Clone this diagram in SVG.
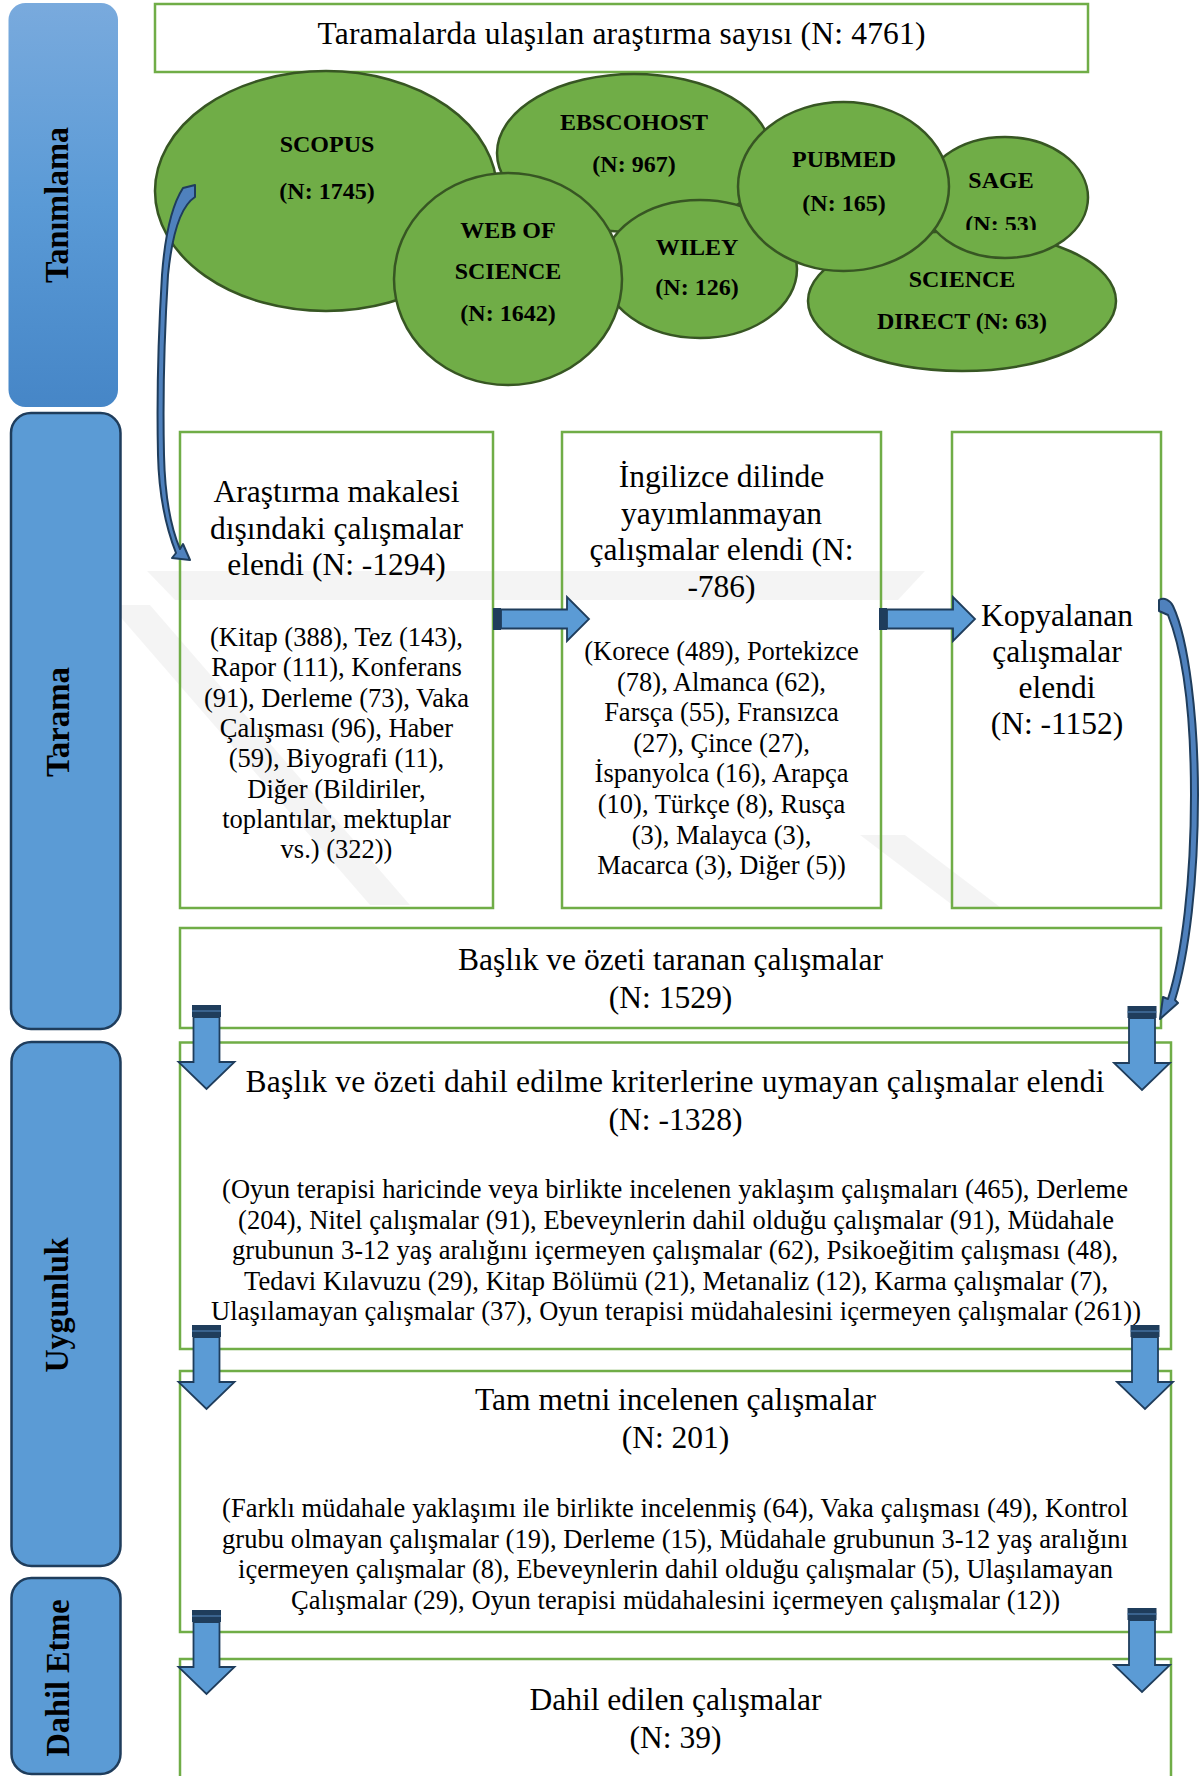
<svg xmlns="http://www.w3.org/2000/svg" width="1202" height="1776" viewBox="0 0 1202 1776">
<defs>
<linearGradient id="gTan" x1="0" y1="0" x2="0" y2="1">
<stop offset="0" stop-color="#79aadd"/><stop offset="0.5" stop-color="#5a9ad6"/><stop offset="1" stop-color="#4686c7"/>
</linearGradient>
<g id="dArr">
<rect x="-14.5" y="0" width="29" height="12" fill="#1f3d5c"/>
<line x1="-14.5" y1="6" x2="14.5" y2="6" stroke="#4d7eb0" stroke-width="1.2"/>
<path d="M-13,12 H13 V57 H28 L0,84 L-28,57 H-13 Z" fill="#5b9bd5" stroke="#1f3d5c" stroke-width="1.8"/>
</g>
<g id="rArr">
<rect x="0" y="-11" width="8" height="22" fill="#1f3d5c"/>
<path d="M8,-9.5 H74 V-22 L96,0 L74,22 V9.5 H8 Z" fill="#5b9bd5" stroke="#1f3d5c" stroke-width="1.8"/>
</g>
<clipPath id="clipSage"><rect x="900" y="100" width="200" height="130"/></clipPath>
</defs>
<style>
.box{fill:none;stroke:#70ad47;stroke-width:2.5}
.side{fill:#5b9bd5;stroke:#1f3d5c;stroke-width:2.5}
.ell{fill:#70ad47;stroke:#375623;stroke-width:2.5}
.et{font-family:"Liberation Serif","Times New Roman",serif;font-weight:bold;font-size:24px;text-anchor:middle;fill:#000}
.h{font-family:"Liberation Serif","Times New Roman",serif;font-size:31.5px;text-anchor:middle;fill:#000}
.d{font-family:"Liberation Serif","Times New Roman",serif;font-size:26.5px;text-anchor:middle;fill:#000}
.st{font-family:"Liberation Serif","Times New Roman",serif;font-weight:bold;font-size:34px;text-anchor:middle;fill:#000}
.wm{fill:#000;opacity:0.045}
.rib{fill:#4f81bd;stroke:#1f3d5c;stroke-width:2;stroke-linejoin:round}
</style>
<rect x="0" y="0" width="1202" height="1776" fill="#ffffff"/>
<g id="watermark">
<polygon class="wm" points="147,571 925,571 898,600 175,600"/>
<polygon class="wm" points="110,605 150,605 410,905 370,905"/>
<polygon class="wm" points="860,835 905,835 1000,907 955,907"/>
</g>
<g id="side-tanimlama">
<rect x="8.5" y="3" width="109.5" height="404" rx="17" fill="url(#gTan)"/>
<text class="st" transform="translate(68,205) rotate(-90)" textLength="156" lengthAdjust="spacingAndGlyphs">Tanımlama</text>
</g>
<g id="side-tarama">
<rect class="side" x="11" y="413" width="109.5" height="616" rx="20"/>
<text class="st" transform="translate(69,722) rotate(-90)" textLength="110" lengthAdjust="spacingAndGlyphs">Tarama</text>
</g>
<g id="side-uygunluk">
<rect class="side" x="11.5" y="1042" width="109" height="524" rx="20"/>
<text class="st" transform="translate(68,1305) rotate(-90)" textLength="135" lengthAdjust="spacingAndGlyphs">Uygunluk</text>
</g>
<g id="side-dahil">
<rect class="side" x="11.5" y="1578" width="109" height="196" rx="20"/>
<text class="st" transform="translate(69,1678) rotate(-90)" textLength="157" lengthAdjust="spacingAndGlyphs">Dahil Etme</text>
</g>
<g id="n-title">
<rect class="box" x="155" y="4" width="933" height="68"/>
<text class="h" x="621.5" y="44" textLength="608">Taramalarda ulaşılan araştırma sayısı (N: 4761)</text>
</g>
<g id="n-scopus">
<ellipse class="ell" cx="326" cy="191" rx="171" ry="120"/>
<text class="et" x="327" y="152">SCOPUS</text>
<text class="et" x="327" y="199">(N: 1745)</text>
</g>
<g id="n-ebscohost">
<ellipse class="ell" cx="634" cy="153" rx="137" ry="79"/>
<text class="et" x="634" y="130">EBSCOHOST</text>
<text class="et" x="634" y="172">(N: 967)</text>
</g>
<g id="n-wiley">
<ellipse class="ell" cx="700" cy="269" rx="97" ry="69"/>
<text class="et" x="697" y="255">WILEY</text>
<text class="et" x="697" y="295">(N: 126)</text>
</g>
<g id="n-wos">
<ellipse class="ell" cx="508" cy="279" rx="114" ry="106"/>
<text class="et" x="508" y="238">WEB OF</text>
<text class="et" x="508" y="279">SCIENCE</text>
<text class="et" x="508" y="321">(N: 1642)</text>
</g>
<g id="n-sciencedirect">
<ellipse class="ell" cx="962" cy="301" rx="154" ry="70"/>
<text class="et" x="962" y="287">SCIENCE</text>
<text class="et" x="962" y="329">DIRECT (N: 63)</text>
</g>
<g id="n-sage">
<ellipse class="ell" cx="1005" cy="197.5" rx="83" ry="60.5"/>
<text class="et" x="1001" y="188">SAGE</text>
<text class="et" x="1001" y="232" clip-path="url(#clipSage)">(N: 53)</text>
</g>
<g id="n-pubmed">
<ellipse class="ell" cx="843.5" cy="186.5" rx="105.5" ry="84.5"/>
<text class="et" x="844" y="167">PUBMED</text>
<text class="et" x="844" y="211">(N: 165)</text>
</g>
<g id="n-box1">
<rect class="box" x="180" y="432" width="313" height="476"/>
<text class="h" x="336.5" y="502">Araştırma makalesi</text>
<text class="h" x="336.5" y="538.5">dışındaki çalışmalar</text>
<text class="h" x="336.5" y="575">elendi (N: -1294)</text>
<text class="d" x="336.5" y="646">(Kitap (388), Tez (143),</text>
<text class="d" x="336.5" y="676.3">Rapor (111), Konferans</text>
<text class="d" x="336.5" y="706.6">(91), Derleme (73), Vaka</text>
<text class="d" x="336.5" y="737">Çalışması (96), Haber</text>
<text class="d" x="336.5" y="767.3">(59), Biyografi (11),</text>
<text class="d" x="336.5" y="797.6">Diğer (Bildiriler,</text>
<text class="d" x="336.5" y="828">toplantılar, mektuplar</text>
<text class="d" x="336.5" y="858.3">vs.) (322))</text>
</g>
<g id="n-box2">
<rect class="box" x="562" y="432" width="319" height="476"/>
<text class="h" x="721.5" y="487">İngilizce dilinde</text>
<text class="h" x="721.5" y="523.5">yayımlanmayan</text>
<text class="h" x="721.5" y="560">çalışmalar elendi (N:</text>
<text class="h" x="721.5" y="596.5">-786)</text>
<text class="d" x="721.5" y="660">(Korece (489), Portekizce</text>
<text class="d" x="721.5" y="690.6">(78), Almanca (62),</text>
<text class="d" x="721.5" y="721.2">Farsça (55), Fransızca</text>
<text class="d" x="721.5" y="751.8">(27), Çince (27),</text>
<text class="d" x="721.5" y="782.4">İspanyolca (16), Arapça</text>
<text class="d" x="721.5" y="813">(10), Türkçe (8), Rusça</text>
<text class="d" x="721.5" y="843.6">(3), Malayca (3),</text>
<text class="d" x="721.5" y="874.2">Macarca (3), Diğer (5))</text>
</g>
<g id="n-box3">
<rect class="box" x="952" y="432" width="209" height="476"/>
<text class="h" x="1057" y="626">Kopyalanan</text>
<text class="h" x="1057" y="662">çalışmalar</text>
<text class="h" x="1057" y="698">elendi</text>
<text class="h" x="1057" y="734">(N: -1152)</text>
</g>
<g id="n-box4">
<rect class="box" x="180" y="928" width="981" height="100"/>
<text class="h" x="670.5" y="970">Başlık ve özeti taranan çalışmalar</text>
<text class="h" x="670.5" y="1008">(N: 1529)</text>
</g>
<g id="n-box5">
<rect class="box" x="180" y="1042.5" width="991" height="306.5"/>
<text class="h" x="675" y="1092" textLength="859">Başlık ve özeti dahil edilme kriterlerine uymayan çalışmalar elendi</text>
<text class="h" x="675.5" y="1129.5">(N: -1328)</text>
<text class="d" x="675" y="1198" textLength="906">(Oyun terapisi haricinde veya birlikte incelenen yaklaşım çalışmaları (465), Derleme</text>
<text class="d" x="676" y="1228.5" textLength="876">(204), Nitel çalışmalar (91), Ebeveynlerin dahil olduğu çalışmalar (91), Müdahale</text>
<text class="d" x="675" y="1259" textLength="886">grubunun 3-12 yaş aralığını içermeyen çalışmalar (62), Psikoeğitim çalışması (48),</text>
<text class="d" x="676" y="1289.5" textLength="864">Tedavi Kılavuzu (29), Kitap Bölümü (21), Metanaliz (12), Karma çalışmalar (7),</text>
<text class="d" x="676" y="1320" textLength="930">Ulaşılamayan çalışmalar (37), Oyun terapisi müdahalesini içermeyen çalışmalar (261))</text>
</g>
<g id="n-box6">
<rect class="box" x="180" y="1371" width="991" height="261"/>
<text class="h" x="675.5" y="1410">Tam metni incelenen çalışmalar</text>
<text class="h" x="675.5" y="1448">(N: 201)</text>
<text class="d" x="675" y="1517" textLength="906">(Farklı müdahale yaklaşımı ile birlikte incelenmiş (64), Vaka çalışması (49), Kontrol</text>
<text class="d" x="675" y="1547.5" textLength="906">grubu olmayan çalışmalar (19), Derleme (15), Müdahale grubunun 3-12 yaş aralığını</text>
<text class="d" x="675.5" y="1578" textLength="875">içermeyen çalışmalar (8), Ebeveynlerin dahil olduğu çalışmalar (5), Ulaşılamayan</text>
<text class="d" x="675.5" y="1608.5" textLength="769">Çalışmalar (29), Oyun terapisi müdahalesini içermeyen çalışmalar (12))</text>
</g>
<g id="n-box7">
<rect class="box" x="180" y="1659" width="991" height="130"/>
<text class="h" x="675.5" y="1710">Dahil edilen çalışmalar</text>
<text class="h" x="675.5" y="1748">(N: 39)</text>
</g>
<g id="connectors">
<path class="rib" d="M 183,188 L 195,185 L 195,197 C 181,206 172,235 168,275 C 164,340 163,410 164,455 C 165,500 171,528 180,549 L 183,544 L 190,560 L 172,558 L 176,553 C 167,530 159,500 158,455 C 157,410 158,340 162,275 C 165,235 172,205 183,188 Z"/>
<path class="rib" d="M 1159,600 C 1164,597 1170,600 1173,606 C 1189,640 1198,720 1198,795 C 1198,880 1189,955 1175,1000 L 1178,1003 L 1160,1019 L 1163,997 L 1168,999 C 1182,955 1191,880 1191,795 C 1191,722 1184,655 1168,615 L 1159,611 Z"/>
<use href="#rArr" transform="translate(493,619)"/>
<use href="#rArr" transform="translate(879,619)"/>
<use href="#dArr" transform="translate(206.5,1005)"/>
<use href="#dArr" transform="translate(1142,1006)"/>
<use href="#dArr" transform="translate(206.5,1325)"/>
<use href="#dArr" transform="translate(1145,1325)"/>
<use href="#dArr" transform="translate(206.5,1610)"/>
<use href="#dArr" transform="translate(1142,1608)"/>
</g>
</svg>
